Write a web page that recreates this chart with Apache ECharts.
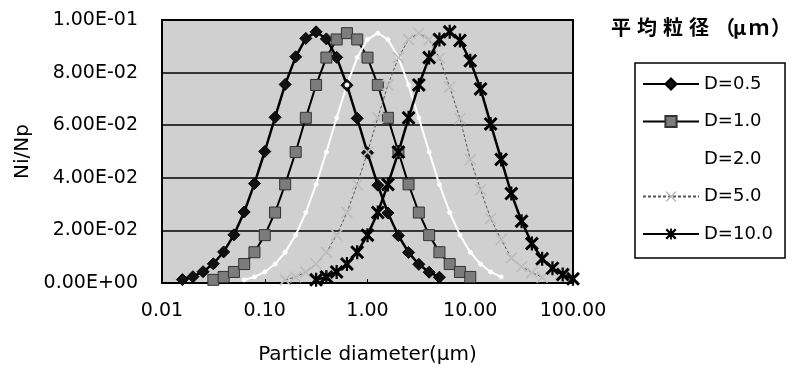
<!DOCTYPE html>
<html><head><meta charset="utf-8">
<script src="https://cdn.jsdelivr.net/npm/echarts@6/dist/echarts.min.js"></script>
<style>html,body{margin:0;padding:0;background:#fff;}#c{width:792px;height:375px;}</style>
</head><body><div id="c"></div>
<script>
// Diameters (µm) of the points of each series
const dia05 = [0.0158, 0.0200, 0.0251, 0.0316, 0.0398, 0.0501, 0.0631, 0.0794, 0.100, 0.126, 0.158, 0.200, 0.251, 0.316, 0.398, 0.501, 0.631, 0.794, 1.00, 1.26, 1.58, 2.00, 2.51, 3.16, 3.98, 5.01];
const dia10 = [0.0316, 0.0398, 0.0501, 0.0631, 0.0794, 0.100, 0.126, 0.158, 0.200, 0.251, 0.316, 0.398, 0.501, 0.631, 0.794, 1.00, 1.26, 1.58, 2.00, 2.51, 3.16, 3.98, 5.01, 6.31, 7.94, 10.0];
const dia20 = [0.0631, 0.0794, 0.100, 0.126, 0.158, 0.200, 0.251, 0.316, 0.398, 0.501, 0.631, 0.794, 1.00, 1.26, 1.58, 2.00, 2.51, 3.16, 3.98, 5.01, 6.31, 7.94, 10.0, 12.6, 15.8, 20.0];
const dia50 = [0.158, 0.200, 0.251, 0.316, 0.398, 0.501, 0.631, 0.794, 1.00, 1.26, 1.58, 2.00, 2.51, 3.16, 3.98, 5.01, 6.31, 7.94, 10.0, 12.6, 15.8, 20.0, 25.1, 31.6, 39.8, 50.1];
const dia100 = [0.316, 0.398, 0.501, 0.631, 0.794, 1.00, 1.26, 1.58, 2.00, 2.51, 3.16, 3.98, 5.01, 6.31, 7.94, 10.0, 12.6, 15.8, 20.0, 25.1, 31.6, 39.8, 50.1, 63.1, 79.4, 100];

// Ni/Np values
const val05 = [0.0013, 0.0024, 0.0043, 0.0073, 0.0118, 0.0183, 0.0270, 0.0378, 0.0500, 0.0630, 0.0755, 0.0860, 0.0930, 0.0955, 0.0928, 0.0858, 0.0752, 0.0626, 0.0495, 0.0372, 0.0266, 0.0180, 0.0116, 0.0071, 0.0041, 0.0022];
const val10 = [0.0012, 0.0023, 0.0042, 0.0072, 0.0117, 0.0182, 0.0268, 0.0375, 0.0498, 0.0628, 0.0753, 0.0857, 0.0926, 0.0950, 0.0926, 0.0857, 0.0753, 0.0628, 0.0498, 0.0375, 0.0268, 0.0182, 0.0117, 0.0072, 0.0042, 0.0023];
const val20 = [0.0012, 0.0023, 0.0042, 0.0072, 0.0117, 0.0182, 0.0268, 0.0375, 0.0498, 0.0628, 0.0753, 0.0857, 0.0926, 0.0950, 0.0926, 0.0857, 0.0753, 0.0628, 0.0498, 0.0375, 0.0268, 0.0182, 0.0117, 0.0072, 0.0042, 0.0023];
const val50 = [0.0012, 0.0023, 0.0042, 0.0072, 0.0117, 0.0182, 0.0268, 0.0375, 0.0498, 0.0628, 0.0753, 0.0857, 0.0926, 0.0950, 0.0926, 0.0855, 0.0745, 0.0625, 0.0470, 0.0355, 0.0245, 0.0165, 0.0095, 0.0062, 0.0040, 0.0022];
const val100 = [0.0012, 0.0023, 0.0042, 0.0072, 0.0117, 0.0182, 0.0268, 0.0375, 0.0498, 0.0628, 0.0753, 0.0857, 0.0926, 0.0955, 0.0922, 0.0845, 0.0738, 0.0605, 0.0470, 0.0340, 0.0235, 0.0150, 0.0092, 0.0056, 0.0032, 0.0016];

const seriesNames = ['D=0.5', 'D=1.0', 'D=2.0', 'D=5.0', 'D=10.0'];
const xTickValues = [0.01, 0.1, 1, 10, 100];
const yTicks = [0, 0.02, 0.04, 0.06, 0.08, 0.1];
const legendTitle = '平均粒径（μｍ）';
const xName = 'Particle diameter(μm)';
const yName = 'Ni/Np';

function pairs(xs, ys) { return xs.map((x, i) => [x, ys[i]]); }
function sci(v) {
  if (Math.abs(v) < 1e-12) return '0.00E+00';
  const e = Math.floor(Math.log10(v) + 1e-9);
  const m = v / Math.pow(10, e);
  return m.toFixed(2) + 'E' + (e < 0 ? '-' : '+') + String(Math.abs(e)).padStart(2, '0');
}
// title rendered with wider character pitch (rich text, same characters)
function spacedTitle(s) {
  return Array.from(s).map(ch => {
    if (/[\u4e00-\u9fff]/.test(ch)) return '{a|' + ch + '}';
    if (ch === '（') return '{p|' + ch + '}';
    if (ch === '）') return '{q|' + ch + '}';
    if (ch === 'μ') return '{b|' + ch + '}';
    return '{c|' + ch + '}';
  }).join('');
}
const FONT = 'DejaVu Sans';
const CJK = 'Noto Sans CJK JP';
const xSym = 'path://M1,0 L5,4 L9,0 L10,1 L6,5 L10,9 L9,10 L5,6 L1,10 L0,9 L4,5 L0,1 Z';
const starSym = 'path://M1.5,0 L5,3.5 L8.5,0 L10,1.5 L6.5,5 L10,8.5 L8.5,10 L5,6.5 L1.5,10 L0,8.5 L3.5,5 L0,1.5 Z M4.2,0 L5.8,0 L5.8,10 L4.2,10 Z';

const tStyle = {fontFamily: CJK, fontSize: 20, fontWeight: 'bold', color: '#000'};
const chart = echarts.init(document.getElementById('c'), null, {renderer: 'canvas'});
chart.setOption({
  animation: false,
  backgroundColor: '#fff',
  title: {
    text: spacedTitle(legendTitle), left: 611, top: 17, padding: 0,
    textStyle: Object.assign({}, tStyle, {rich: {
      a: Object.assign({}, tStyle, {width: 26}),
      p: Object.assign({}, tStyle, {width: 18}),
      b: Object.assign({}, tStyle, {width: 16}),
      c: Object.assign({}, tStyle, {width: 22}),
      q: Object.assign({}, tStyle, {width: 16})
    }})
  },
  legend: {
    orient: 'vertical', left: 635, top: 63,
    padding: [12, 12, 15, 7],
    itemWidth: 56, itemHeight: 14, itemGap: 19.5,
    borderColor: '#000', borderWidth: 1.5,
    textStyle: {fontFamily: FONT, fontSize: 18, color: '#000'},
    data: seriesNames
  },
  grid: {left: 162, top: 20, right: 219, bottom: 92, show: true,
    backgroundColor: '#d0d0d0', borderColor: '#000', borderWidth: 2},
  xAxis: {
    type: 'log', logBase: 10, min: xTickValues[0], max: xTickValues[xTickValues.length - 1],
    axisLine: {lineStyle: {color: '#000', width: 2}},
    axisTick: {inside: true, length: 4, lineStyle: {color: '#000', width: 1}},
    splitLine: {show: false},
    axisLabel: {formatter: v => Number(v).toFixed(2), color: '#000', fontSize: 19, fontFamily: FONT, margin: 19},
    name: xName, nameLocation: 'middle', nameGap: 62,
    nameTextStyle: {fontFamily: FONT, fontSize: 20, color: '#000'}
  },
  yAxis: {
    type: 'value', min: yTicks[0], max: yTicks[yTicks.length - 1], interval: 0.02,
    axisLine: {show: true, lineStyle: {color: '#000', width: 2}},
    axisTick: {show: false},
    splitLine: {show: true, lineStyle: {color: '#000', width: 1.5}},
    axisLabel: {formatter: sci, color: '#000', fontSize: 19, fontFamily: FONT, margin: 24},
    name: yName, nameLocation: 'middle', nameGap: 128, nameRotate: 90,
    nameTextStyle: {fontFamily: FONT, fontSize: 20, color: '#000'}
  },
  series: [
    {name: seriesNames[0], type: 'line', data: pairs(dia05, val05),
      symbol: 'diamond', symbolSize: 12,
      lineStyle: {color: '#000', width: 2.5}, itemStyle: {color: '#111', borderColor: '#000', borderWidth: 1}},
    {name: seriesNames[1], type: 'line', data: pairs(dia10, val10),
      symbol: 'rect', symbolSize: 11,
      lineStyle: {color: '#000', width: 2}, itemStyle: {color: '#7c7c7c', borderColor: '#333', borderWidth: 1}},
    {name: seriesNames[2], type: 'line', data: pairs(dia20, val20),
      symbol: 'circle', symbolSize: 4,
      lineStyle: {color: '#fff', width: 2}, itemStyle: {color: '#fff', borderColor: '#fff'}},
    {name: seriesNames[3], type: 'line', data: pairs(dia50, val50),
      symbol: xSym, symbolSize: 12,
      lineStyle: {color: '#555', width: 1, type: [3, 2]}, itemStyle: {color: '#bdbdbd', borderWidth: 0}},
    {name: seriesNames[4], type: 'line', data: pairs(dia100, val100),
      symbol: starSym, symbolSize: 14,
      lineStyle: {color: '#000', width: 2.5}, itemStyle: {color: '#000', borderWidth: 0}}
  ]
});
</script></body></html>
